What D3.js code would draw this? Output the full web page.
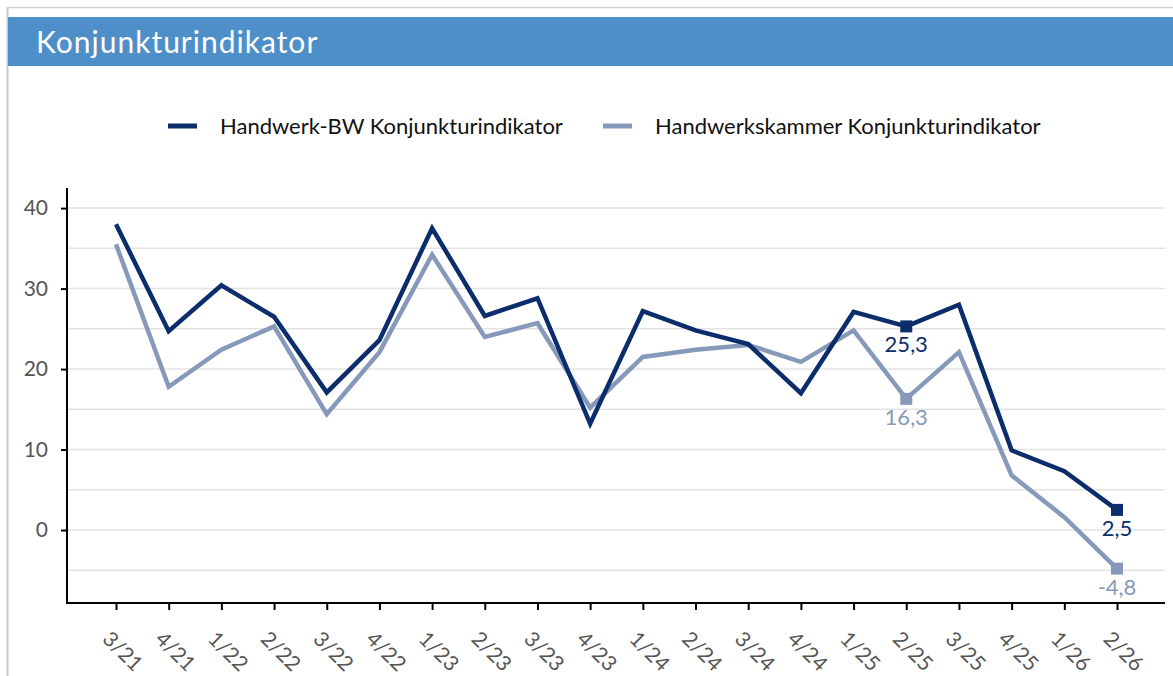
<!DOCTYPE html>
<html lang="de">
<head>
<meta charset="utf-8">
<title>Konjunkturindikator</title>
<script src="https://cdn.jsdelivr.net/npm/d3@7/dist/d3.min.js"></script>
<style>
  html, body { margin: 0; padding: 0; background: #fff; }
  text { font-family: Lato, sans-serif; }
</style>
</head>
<body>
<div id="chart"></div>
<script>
var w = 1173, h = 676;

// data
var quarters = ["3/21","4/21","1/22","2/22","3/22","4/22","1/23","2/23","3/23","4/23",
                "1/24","2/24","3/24","4/24","1/25","2/25","3/25","4/25","1/26","2/26"];
var bwValues = [38.0,24.7,30.4,26.5,17.1,23.6,37.5,26.6,28.8,13.2,
                27.2,24.8,23.1,17.0,27.1,25.3,28.0,9.9,7.3,2.5];
var hwkValues = [35.5,17.8,22.4,25.3,14.4,22.1,34.2,24.0,25.7,15.2,
                 21.5,22.4,23.0,20.9,24.8,16.3,22.1,6.8,1.6,-4.8];
var seriesNames = ["Handwerk-BW Konjunkturindikator", "Handwerkskammer Konjunkturindikator"];
var yTicks = [0, 10, 20, 30, 40];
var gridTicks = [-5, 0, 5, 10, 15, 20, 25, 30, 35, 40];
var labelled = ["2/25", "2/26"];

var colDark = "#0b2d6b", colLight = "#8699ba";

var svg = d3.select("#chart").append("svg")
    .attr("width", w).attr("height", h);

// frame + header
svg.append("line").attr("x1", 7.5).attr("x2", 7.5).attr("y1", 7).attr("y2", h)
    .attr("stroke", "#c8c8c8").attr("stroke-width", 2);
svg.append("line").attr("x1", 7).attr("x2", w).attr("y1", 7.5).attr("y2", 7.5)
    .attr("stroke", "#d4d4d4").attr("stroke-width", 1.5);
svg.append("rect").attr("x", 8).attr("y", 17).attr("width", w - 8).attr("height", 49)
    .attr("fill", "#4f8fc9");
svg.append("text").attr("x", 36).attr("y", 53)
    .attr("fill", "#fff").attr("font-size", 30).attr("letter-spacing", 1)
    .text("Konjunkturindikator");

// scales
var plotLeft = 67, plotRight = 1165, plotTop = 188, plotBottom = 603;
var x = d3.scalePoint().domain(quarters).range([116, 1117]);
var y = d3.scaleLinear().domain([-9.07, 42.5]).range([plotBottom, plotTop]);

// grid
svg.append("g").selectAll("line").data(gridTicks).join("line")
    .attr("x1", plotLeft).attr("x2", plotRight)
    .attr("y1", d => y(d)).attr("y2", d => y(d))
    .attr("stroke", "#e3e3e3").attr("stroke-width", 1.5);

// y axis
var yAxis = svg.append("g").attr("transform", "translate(" + plotLeft + ",0)")
    .call(d3.axisLeft(y).tickValues(yTicks).tickSize(6).tickPadding(12));
yAxis.select(".domain").remove();
yAxis.selectAll(".tick line").attr("stroke", "#000").attr("stroke-width", 2);
yAxis.selectAll("text").attr("font-size", 21).attr("fill", "#555").attr("dx", "-1");
svg.append("line").attr("x1", plotLeft).attr("x2", plotLeft)
    .attr("y1", plotTop).attr("y2", plotBottom + 1)
    .attr("stroke", "#000").attr("stroke-width", 2);

// x axis
var xAxis = svg.append("g").attr("transform", "translate(0," + plotBottom + ")")
    .call(d3.axisBottom(x).tickSize(7).tickPadding(0));
xAxis.select(".domain").remove();
xAxis.selectAll(".tick line").attr("stroke", "#000").attr("stroke-width", 2);
xAxis.selectAll("text")
    .attr("font-size", 21).attr("fill", "#555")
    .attr("text-anchor", "start").attr("dy", "0.35em")
    .attr("transform", "translate(-5,27) rotate(45)");
svg.append("line").attr("x1", plotLeft - 1).attr("x2", plotRight)
    .attr("y1", plotBottom).attr("y2", plotBottom)
    .attr("stroke", "#000").attr("stroke-width", 2);

// lines
var line = d3.line().x((d, i) => x(quarters[i])).y(d => y(d));
var series = [
  { name: seriesNames[1], values: hwkValues, color: colLight },
  { name: seriesNames[0], values: bwValues, color: colDark }
];
series.forEach(function(s) {
  svg.append("path").datum(s.values)
    .attr("fill", "none").attr("stroke", s.color).attr("stroke-width", 4.5)
    .attr("stroke-linejoin", "miter").attr("d", line);
  var pts = labelled.map(function(q) { return { q: q, v: s.values[quarters.indexOf(q)] }; });
  svg.append("g").selectAll("rect").data(pts).join("rect")
    .attr("x", d => x(d.q) - 6).attr("y", d => y(d.v) - 6)
    .attr("width", 12).attr("height", 12).attr("fill", s.color);
  svg.append("g").selectAll("text").data(pts).join("text")
    .attr("x", d => x(d.q)).attr("y", d => y(d.v) + 26)
    .attr("text-anchor", "middle").attr("font-size", 22).attr("fill", s.color)
    .text(d => d3.format(".1f")(d.v).replace(".", ",").replace("−", "-"));
});

// legend
var legend = svg.append("g");
var legendItems = [
  { name: seriesNames[0], color: colDark, x: 168 },
  { name: seriesNames[1], color: colLight, x: 603 }
];
legendItems.forEach(function(l) {
  legend.append("line").attr("x1", l.x).attr("x2", l.x + 29)
    .attr("y1", 126).attr("y2", 126)
    .attr("stroke", l.color).attr("stroke-width", 5);
  legend.append("text").attr("x", l.x + 52).attr("y", 134)
    .attr("font-size", 22)
    .attr("fill", "#111").text(l.name);
});
</script>
</body>
</html>
